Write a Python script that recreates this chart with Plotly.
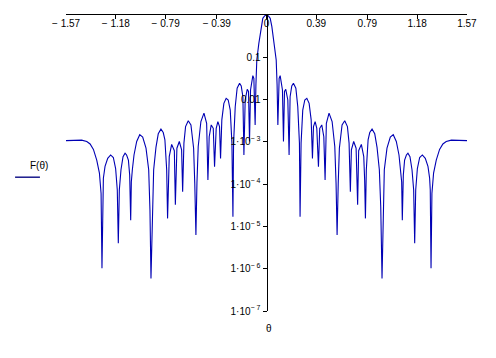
import plotly.graph_objects as go

# ---- data (theta in rad, F on a log scale) ----
theta_left = [-1.571, -1.500, -1.448, -1.408, -1.382, -1.356, -1.330, -1.309, -1.296, -1.289,
              -1.283, -1.278, -1.265, -1.244, -1.221, -1.200, -1.182, -1.169, -1.161, -1.153,
              -1.140, -1.124, -1.108, -1.096, -1.082, -1.072, -1.064, -1.059, -1.051, -1.038,
              -1.017, -0.993, -0.970, -0.944, -0.923, -0.913, -0.905, -0.895, -0.884, -0.866,
              -0.848, -0.827, -0.809, -0.796, -0.782, -0.775, -0.769, -0.762, -0.743, -0.722,
              -0.714, -0.702, -0.683, -0.665, -0.657, -0.647, -0.634, -0.613, -0.592, -0.571,
              -0.562, -0.553, -0.545, -0.535, -0.514, -0.490, -0.469, -0.459, -0.449, -0.433,
              -0.417, -0.407, -0.394, -0.381, -0.368, -0.360, -0.350, -0.334, -0.316, -0.300,
              -0.284, -0.271, -0.263, -0.258, -0.245, -0.230, -0.211, -0.198, -0.185, -0.177,
              -0.167, -0.151, -0.141, -0.133, -0.125, -0.107, -0.099, -0.089, -0.083, -0.076,
              -0.060, -0.042, -0.029, -0.015]
f_left = [1.07e-3, 1.10e-3, 1.10e-3, 1.02e-3, 8.91e-4, 6.61e-4, 3.72e-4, 1.82e-4, 6.03e-5, 1.02e-6,
          7.24e-5, 1.38e-4, 2.63e-4, 4.07e-4, 4.90e-4, 4.27e-4, 2.34e-4, 7.24e-5, 3.98e-6, 7.24e-5,
          2.19e-4, 4.47e-4, 5.37e-4, 4.90e-4, 3.72e-4, 1.66e-4, 1.41e-5, 1.12e-4, 2.19e-4, 4.90e-4,
          1.02e-3, 1.48e-3, 1.29e-3, 7.08e-4, 2.19e-4, 2.45e-5, 5.89e-7, 2.95e-5, 2.19e-4, 7.41e-4,
          1.55e-3, 2.00e-3, 1.66e-3, 1.12e-3, 2.19e-4, 1.55e-5, 1.26e-4, 4.47e-4, 8.71e-4, 6.17e-4,
          3.24e-5, 7.08e-4, 1.02e-3, 6.46e-4, 6.61e-5, 9.33e-4, 2.29e-3, 3.16e-3, 2.51e-3, 7.08e-4,
          1.05e-4, 6.31e-6, 1.05e-4, 7.76e-4, 3.02e-3, 4.79e-3, 2.75e-3, 1.26e-4, 1.32e-3, 2.51e-3,
          2.09e-3, 2.57e-4, 2.09e-3, 3.02e-3, 2.29e-3, 4.07e-4, 3.31e-3, 8.13e-3, 1.07e-2, 9.77e-3,
          5.62e-3, 9.33e-4, 1.70e-5, 9.33e-4, 6.76e-3, 1.86e-2, 2.43e-2, 2.09e-2, 1.17e-2, 4.90e-4,
          9.77e-3, 1.75e-2, 1.55e-2, 1.02e-3, 1.69e-2, 3.68e-2, 3.16e-2, 2.51e-3, 2.21e-2, 8.63e-2,
          2.14e-1, 5.30e-1, 8.34e-1, 9.55e-1]

theta_right = [0.000, 0.015, 0.029, 0.042, 0.060, 0.076, 0.083, 0.089, 0.099, 0.107,
               0.125, 0.133, 0.141, 0.151, 0.167, 0.177, 0.185, 0.198, 0.211, 0.230,
               0.245, 0.258, 0.263, 0.271, 0.284, 0.300, 0.316, 0.334, 0.350, 0.360,
               0.368, 0.381, 0.394, 0.407, 0.417, 0.433, 0.449, 0.459, 0.469, 0.490,
               0.514, 0.535, 0.545, 0.553, 0.562, 0.571, 0.592, 0.613, 0.634, 0.647,
               0.657, 0.665, 0.683, 0.702, 0.714, 0.722, 0.743, 0.762, 0.769, 0.775,
               0.782, 0.796, 0.809, 0.827, 0.848, 0.866, 0.884, 0.895, 0.905, 0.913,
               0.923, 0.944, 0.970, 0.993, 1.017, 1.038, 1.051, 1.059, 1.064, 1.072,
               1.082, 1.096, 1.108, 1.124, 1.140, 1.153, 1.161, 1.169, 1.182, 1.200,
               1.221, 1.244, 1.265, 1.278, 1.283, 1.289, 1.296, 1.309, 1.330, 1.356,
               1.382, 1.408, 1.448, 1.500, 1.571]
f_right = [1.0, 9.55e-1, 8.34e-1, 5.30e-1, 2.14e-1, 8.63e-2, 2.21e-2, 2.51e-3, 3.16e-2, 3.68e-2,
           1.69e-2, 1.02e-3, 1.55e-2, 1.75e-2, 9.77e-3, 4.90e-4, 1.17e-2, 2.09e-2, 2.43e-2, 1.86e-2,
           6.76e-3, 9.33e-4, 1.70e-5, 9.33e-4, 5.62e-3, 9.77e-3, 1.07e-2, 8.13e-3, 3.31e-3, 4.07e-4,
           2.29e-3, 3.02e-3, 2.09e-3, 2.57e-4, 2.09e-3, 2.51e-3, 1.32e-3, 1.26e-4, 2.75e-3, 4.79e-3,
           3.02e-3, 7.76e-4, 1.05e-4, 6.31e-6, 1.05e-4, 7.08e-4, 2.51e-3, 3.16e-3, 2.29e-3, 9.33e-4,
           6.61e-5, 6.46e-4, 1.02e-3, 7.08e-4, 3.24e-5, 6.17e-4, 8.71e-4, 4.47e-4, 1.26e-4, 1.55e-5,
           2.19e-4, 1.12e-3, 1.66e-3, 2.00e-3, 1.55e-3, 7.41e-4, 2.19e-4, 2.95e-5, 5.89e-7, 2.45e-5,
           2.19e-4, 7.08e-4, 1.29e-3, 1.48e-3, 1.02e-3, 4.90e-4, 2.19e-4, 1.12e-4, 1.41e-5, 1.66e-4,
           3.72e-4, 4.90e-4, 5.37e-4, 4.47e-4, 2.19e-4, 7.24e-5, 3.98e-6, 7.24e-5, 2.34e-4, 4.27e-4,
           4.90e-4, 4.07e-4, 2.63e-4, 1.38e-4, 7.24e-5, 1.02e-6, 6.03e-5, 1.82e-4, 3.72e-4, 6.61e-4,
           8.91e-4, 1.02e-3, 1.10e-3, 1.10e-3, 1.07e-3]

assert len(theta_left) == len(f_left), (len(theta_left), len(f_left))
assert len(theta_right) == len(f_right), (len(theta_right), len(f_right))

theta = theta_left + theta_right
F = f_left + f_right

x_tickvals = [-1.57, -1.18, -0.79, -0.39, 0, 0.39, 0.79, 1.18, 1.57]
x_ticktext = ["\u2212 1.57", "\u2212 1.18", "\u2212 0.79", "\u2212 0.39", "0",
              "0.39", "0.79", "1.18", "1.57"]
y_tickvals = [1e-7, 1e-6, 1e-5, 1e-4, 1e-3, 1e-2, 1e-1]
y_ticktext = ["1\u00b710<sup>\u2212 7</sup>", "1\u00b710<sup>\u2212 6</sup>",
              "1\u00b710<sup>\u2212 5</sup>", "1\u00b710<sup>\u2212 4</sup>",
              "1\u00b710<sup>\u2212 3</sup>", "0.01", "0.1"]

CURVE = "#0000b4"
FONT = "Liberation Sans"

fig = go.Figure()
fig.add_trace(go.Scatter(x=theta, y=F, mode="lines",
                         line=dict(color=CURVE, width=1.1),
                         showlegend=False, hoverinfo="skip"))

ax_common = dict(showgrid=False, zeroline=False)
fig.update_layout(
    width=496, height=358,
    margin=dict(l=66, r=29, t=15, b=47),
    paper_bgcolor="white", plot_bgcolor="white",
    showlegend=False,
    xaxis=dict(range=[-1.5708, 1.5708], side="top", showline=True, linecolor="black",
               linewidth=1, ticks="inside", ticklen=4, tickcolor="black", tickwidth=1,
               tickvals=x_tickvals, ticktext=x_ticktext, ticklabelposition="inside",
               ticklabeloverflow="allow",
               tickfont=dict(family=FONT, size=10, color="black"), **ax_common),
    xaxis2=dict(range=[-1.5708, 1.5708], side="top", overlaying="x", anchor="y",
                showline=False, ticks="outside", ticklen=4, tickcolor="black", tickwidth=1,
                tickvals=x_tickvals, showticklabels=False, **ax_common),
    yaxis=dict(type="log", range=[-7, 0], anchor="free", position=0.5,
               showline=True, linecolor="black", linewidth=1,
               ticks="outside", ticklen=4, tickcolor="black", tickwidth=1,
               tickvals=y_tickvals, ticktext=y_ticktext,
               tickfont=dict(family=FONT, size=10, color="black"), **ax_common),
    yaxis2=dict(type="log", range=[-7, 0], anchor="free", position=0.5, overlaying="y",
                showline=False, ticks="inside", ticklen=4, tickcolor="black", tickwidth=1,
                tickvals=y_tickvals, showticklabels=False, **ax_common),
    annotations=[
        dict(text="F(\u03b8)", xref="paper", yref="paper", x=-0.096, y=0.49,
             showarrow=False, font=dict(family=FONT, size=10, color="black")),
        dict(text="\u03b8", xref="paper", yref="paper", x=0.505, y=-0.0845,
             showarrow=False, font=dict(family=FONT, size=10, color="black")),
    ],
    shapes=[
        dict(type="line", xref="paper", yref="paper", x0=-0.127, x1=-0.065,
             y0=0.452, y1=0.452, line=dict(color="#1a1a8c", width=1.5)),
    ],
)

fig.write_html("out.html")
